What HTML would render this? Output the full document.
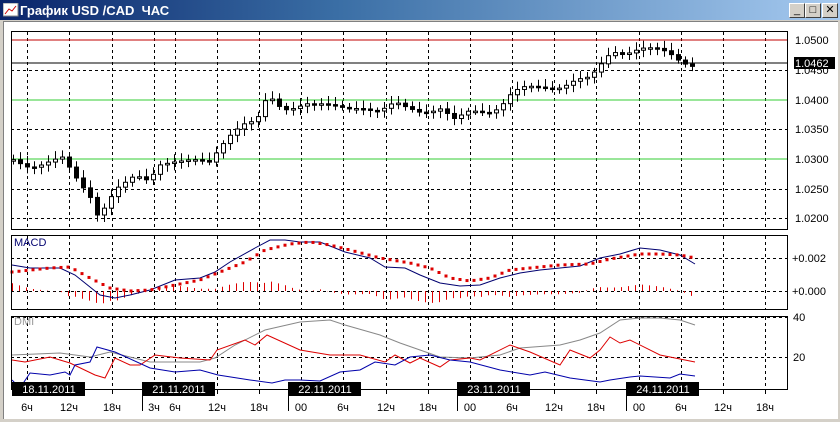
<!DOCTYPE html>
<html><head><meta charset="utf-8"><style>
body{margin:0;width:840px;height:422px;overflow:hidden;background:#d4d0c8;font-family:"Liberation Sans",sans-serif}
#tb{position:absolute;left:0;top:0;width:840px;height:20px;background:linear-gradient(90deg,#0a246a,#3a6ea5 40%,#a6caf0);}
#tb span{position:absolute;left:20px;top:3px;color:#fff;font-weight:bold;font-size:13px}
#win{position:absolute;left:3px;top:21px;width:834px;height:397px;background:#fff;border-left:1px solid #808080;border-top:1px solid #808080}
.btn{position:absolute;top:3px;width:14px;height:13px;background:#d4d0c8;border:1px solid;border-color:#fff #404040 #404040 #fff;font-size:11px;line-height:12px;text-align:center;color:#000}
svg text{font-family:"Liberation Sans",sans-serif;font-size:11px}
</style></head><body>
<div id="tb"><svg width="16" height="14" style="position:absolute;left:3px;top:3px"><rect x="0" y="0" width="15" height="13" fill="#fff" stroke="#888"/><polyline points="2,11 6,6 9,8 13,3" fill="none" stroke="#c00"/></svg><span>График USD /CAD&nbsp; ЧАС</span>
<div class="btn" style="left:789px">_</div><div class="btn" style="left:805px">□</div><div class="btn" style="left:822px">✕</div></div>
<div id="win"></div>
<svg id="s" width="840" height="422" style="position:absolute;left:0;top:0">
<g id="grid" stroke="#000" stroke-dasharray="3,3" fill="none"></g>
<!-- main panel -->
<line x1="11" y1="40" x2="787" y2="40" stroke="#c00000"/>
<line x1="11" y1="100" x2="787" y2="100" stroke="#3c3"/>
<line x1="11" y1="159" x2="787" y2="159" stroke="#3c3"/>
<line x1="11" y1="63" x2="787" y2="63" stroke="#000"/>
<g id="candles"></g>
<rect x="11.5" y="31.5" width="776" height="198" fill="none" stroke="#000"/>
<g font-size="11">
<text x="795" y="44">1.0500</text><text x="795" y="74">1.0450</text><text x="795" y="104">1.0400</text><text x="795" y="133">1.0350</text><text x="795" y="163">1.0300</text><text x="795" y="193">1.0250</text><text x="795" y="222">1.0200</text>
</g>
<rect x="794" y="57" width="41" height="12" fill="#000"/><text x="795" y="67" fill="#fff">1.0462</text>
<!-- MACD -->
<g id="hist" stroke="#d00"></g>
<polyline id="macd" fill="none" stroke="#000070"/>
<g id="sig" fill="#d00"></g>
<rect x="11.5" y="235.5" width="776" height="74" fill="none" stroke="#000"/>
<text x="14" y="246" fill="#000070">MACD</text>
<text x="792" y="262">+0.002</text><text x="792" y="295">+0.000</text>
<!-- DMI -->
<polyline id="adx" fill="none" stroke="#888"/>
<polyline id="pdi" fill="none" stroke="#d00"/>
<polyline id="mdi" fill="none" stroke="#00a"/>
<rect x="11.5" y="316.5" width="776" height="73" fill="none" stroke="#000"/>
<text x="14" y="325" fill="#999">DMI</text>
<text x="793" y="321">40</text><text x="793" y="361">20</text>
<g id="ax"></g>
</svg>
<script>
const ns="http://www.w3.org/2000/svg";
function el(p,t,a){const e=document.createElementNS(ns,t);for(const k in a)e.setAttribute(k,a[k]);p.appendChild(e);return e;}
const vx=[27,69,112,154,175,217,259,301,343,386,428,470,512,554,596,639,681,723,765];
const g=document.getElementById('grid');
vx.forEach(x=>{[[32,229],[236,309],[317,389]].forEach(r=>el(g,'line',{x1:x+.5,y1:r[0],x2:x+.5,y2:r[1]}));});
[70,129,189,218].forEach(y=>el(g,'line',{x1:11,y1:y+.5,x2:787,y2:y+.5}));
[258,291].forEach(y=>el(g,'line',{x1:11,y1:y+.5,x2:787,y2:y+.5}));
[317,357].forEach(y=>el(g,'line',{x1:11,y1:y+.5,x2:787,y2:y+.5}));
function interp(pts,x){for(let i=0;i<pts.length-1;i++){if(x>=pts[i][0]&&x<=pts[i+1][0]){const t=(x-pts[i][0])/(pts[i+1][0]-pts[i][0]);return pts[i][1]+t*(pts[i+1][1]-pts[i][1]);}}return pts[pts.length-1][1];}
function poly(id,s){const p=[];for(let i=0;i<s.length;i+=2)p.push([s[i],s[i+1]]);return p;}
const price=poly(0,[13,160,30,165,50,162,62,160,75,178,90,195,97,212,105,205,115,190,125,185,135,178,147,180,155,170,160,162,170,160,185,162,200,163,210,163,217,150,225,138,232,130,240,125,248,122,255,125,262,112,268,95,275,105,285,108,295,105,305,102,315,105,330,108,345,108,360,105,380,112,395,105,405,108,420,110,440,108,455,122,470,112,490,110,500,105,510,95,520,90,540,88,560,85,575,80,590,80,598,70,605,60,612,50,620,52,630,50,640,48,650,50,660,52,670,55,680,60,690,63,695,64]);
const cg=document.getElementById('candles');
let prev=interp(price,13);
for(let x=13;x<=696;x+=7){
 let c=interp(price,x)+Math.sin(x*1.7)*3;let o=prev;prev=c;
 const hi=Math.min(o,c)-3-Math.abs(Math.sin(x))*5,lo=Math.max(o,c)+3+Math.abs(Math.cos(x*1.3))*4;
 el(cg,'line',{x1:x+.5,y1:hi,x2:x+.5,y2:lo,stroke:'#000'});
 const top=Math.min(o,c),h=Math.max(Math.abs(o-c),1.5);
 el(cg,'rect',{x:x-1.5,y:top,width:4,height:h,fill:c<o?'#fff':'#000',stroke:'#000','stroke-width':1});
}
const macd=poly(0,[12,265,30,268,60,268,75,275,100,295,115,298,130,295,150,290,175,280,200,278,215,272,230,262,255,248,270,240,285,240,300,242,320,242,345,252,370,258,385,267,405,268,420,275,440,283,460,286,480,285,500,278,520,273,540,270,560,268,580,266,600,258,620,254,640,248,660,250,680,255,695,264]);
document.getElementById('macd').setAttribute('points',macd.map(p=>p.join(',')).join(' '));
const sig=poly(0,[12,272,50,268,70,267,90,278,110,288,130,291,150,290,175,285,200,280,220,272,245,262,265,250,290,244,310,242,330,245,350,250,380,258,410,263,430,268,450,278,470,281,490,278,510,270,530,268,560,265,590,264,610,259,640,254,660,254,680,255,695,258]);
const sg=document.getElementById('sig'),hg=document.getElementById('hist');
for(let x=12;x<=696;x+=7){const sy=interp(sig,x),my=interp(macd,x);el(sg,'rect',{x:x-1.5,y:sy-1.5,width:3,height:3});
 const d=(sy-my)*1.1;el(hg,'line',{x1:x+.5,y1:291,x2:x+.5,y2:291-d});}
function setp(id,a){document.getElementById(id).setAttribute('points',poly(0,a).map(p=>p.join(',')).join(' '));}
setp('adx',[12,355,60,353,90,357,110,352,150,362,200,362,215,358,235,345,265,330,300,322,330,320,345,325,380,335,400,343,420,350,440,357,470,358,500,355,520,348,560,345,580,340,600,333,620,320,640,318,660,318,680,320,695,325]);
setp('pdi',[12,360,25,362,50,357,70,363,95,375,105,378,115,358,130,365,140,365,155,355,180,358,210,360,217,350,245,340,255,345,267,335,300,350,330,355,360,355,385,362,395,355,410,363,420,358,440,367,450,360,470,358,480,360,510,345,530,352,560,365,570,350,590,358,600,350,610,337,620,343,630,340,660,355,695,362]);
setp('mdi',[12,380,20,388,30,373,50,375,65,372,70,375,75,365,90,362,97,347,115,352,150,368,175,372,200,370,218,375,250,380,272,383,285,380,300,380,320,381,340,372,360,370,375,362,395,365,410,357,430,355,450,360,470,362,500,370,530,375,545,372,570,378,600,382,610,380,630,377,640,376,670,378,680,374,695,376]);
const ax=document.getElementById('ax');
const lab=['6ч','12ч','18ч','3ч','6ч','12ч','18ч','00','6ч','12ч','18ч','00','6ч','12ч','18ч','00','6ч','12ч','18ч'];
vx.forEach((x,i)=>{el(ax,'line',{x1:x+.5,y1:389,x2:x+.5,y2:394,stroke:'#000'});const t=el(ax,'text',{x:x,y:411,'text-anchor':'middle'});t.textContent=lab[i];});
[142,288,457,626].forEach(x=>el(ax,'line',{x1:x+.5,y1:389,x2:x+.5,y2:411,stroke:'#000'}));
[[12,'18.11.2011'],[142,'21.11.2011'],[288,'22.11.2011'],[457,'23.11.2011'],[626,'24.11.2011']].forEach(d=>{el(ax,'rect',{x:d[0],y:382,width:73,height:14,fill:'#000'});const t=el(ax,'text',{x:d[0]+37,y:393,'text-anchor':'middle',fill:'#fff'});t.textContent=d[1];});
</script>
</body></html>
